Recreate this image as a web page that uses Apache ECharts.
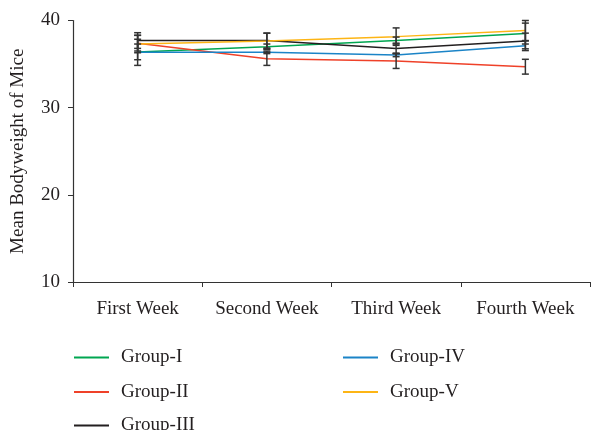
<!DOCTYPE html>
<html>
<head>
<meta charset="utf-8">
<script src="https://cdn.jsdelivr.net/npm/echarts@6/dist/echarts.min.js"></script>
<style>html,body{margin:0;padding:0;background:#fff}#c{width:605px;height:430px}</style>
</head>
<body>
<div id="c"></div>
<script>
const categories = ['First Week', 'Second Week', 'Third Week', 'Fourth Week'];
const groupNames = ['Group-I', 'Group-II', 'Group-III', 'Group-IV', 'Group-V'];
const groupI   = [36.4, 37.0, 37.7, 38.5];
const groupII  = [37.4, 35.6, 35.35, 34.7];
const groupIII = [37.7, 37.7, 36.8, 37.65];
const groupIV  = [36.35, 36.35, 36.05, 37.1];
const groupV   = [37.3, 37.65, 38.15, 38.85];
const errI   = [0.9, 0.3, 0.4, 1.2];
const errII  = [0.9, 0.75, 0.85, 0.85];
const errIII = [0.9, 0.85, 0.6, 0.9];
const errIV  = [1.5, 0.15, 0.2, 0.55];
const errV   = [1.0, 0.9, 1.0, 1.15];
const yTicks = [10, 20, 30, 40];

const colors = ['#00a651', '#ef4129', '#231f20', '#1b84c7', '#fdb515'];
const values = [groupI, groupII, groupIII, groupIV, groupV];
const errs = [errI, errII, errIII, errIV, errV];
const font = 'Liberation Serif';
const txt = '#231f20';
const fs = 19;

const series = [];
values.forEach((v, i) => {
  series.push({
    name: groupNames[i], type: 'line', data: v, symbol: 'none',
    lineStyle: { color: colors[i], width: 1.5 }, itemStyle: { color: colors[i] },
    z: 2, animation: false
  });
});
values.forEach((v, i) => {
  series.push({
    type: 'custom', z: 3, animation: false, silent: true,
    data: v.map((m, k) => [k, m - errs[i][k], m + errs[i][k]]),
    renderItem: function (params, api) {
      const lo = api.coord([api.value(0), api.value(1)]);
      const hi = api.coord([api.value(0), api.value(2)]);
      const w = 3.5;
      const st = { stroke: '#333', lineWidth: 1.5, fill: null };
      return { type: 'group', children: [
        { type: 'line', shape: { x1: lo[0], y1: lo[1], x2: hi[0], y2: hi[1] }, style: st },
        { type: 'line', shape: { x1: lo[0]-w, y1: lo[1], x2: lo[0]+w, y2: lo[1] }, style: st },
        { type: 'line', shape: { x1: hi[0]-w, y1: hi[1], x2: hi[0]+w, y2: hi[1] }, style: st }
      ]};
    }
  });
});

const legendPos = [[74, 356], [74, 390.5], [74, 424], [343, 356], [343, 390.5]];
const legends = groupNames.map((n, i) => ({
  left: legendPos[i][0], top: legendPos[i][1] - 8, data: [n],
  orient: 'vertical', itemWidth: 35, itemHeight: 2, icon: 'rect', padding: 0,
  textStyle: { fontFamily: font, fontSize: fs, color: txt, padding: [0, 0, 0, 7] }
}));

const chart = echarts.init(document.getElementById('c'), null, { renderer: 'canvas' });
chart.setOption({
  animation: false,
  color: colors,
  grid: { left: 73, right: 15, top: 20.5, bottom: 148, containLabel: false, outerBoundsMode: 'none' },
  legend: legends,
  xAxis: {
    type: 'category', data: categories, boundaryGap: true,
    axisLine: { lineStyle: { color: '#333', width: 1.2 } },
    axisTick: { show: true, length: 5, alignWithLabel: false, lineStyle: { color: '#333' } },
    axisLabel: { fontFamily: font, fontSize: fs, color: txt, margin: 18, interval: 0 }
  },
  yAxis: {
    type: 'value', min: 10, max: 40, interval: 10,
    name: 'Mean Bodyweight of Mice', nameLocation: 'middle', nameGap: 45,
    nameTextStyle: { fontFamily: font, fontSize: fs, color: txt },
    axisLine: { show: true, lineStyle: { color: '#333', width: 1.2 } },
    axisTick: { show: true, length: 5, lineStyle: { color: '#333' } },
    splitLine: { show: false },
    axisLabel: { fontFamily: font, fontSize: fs, color: txt, margin: 13 }
  },
  series: series
});
</script>
</body>
</html>
